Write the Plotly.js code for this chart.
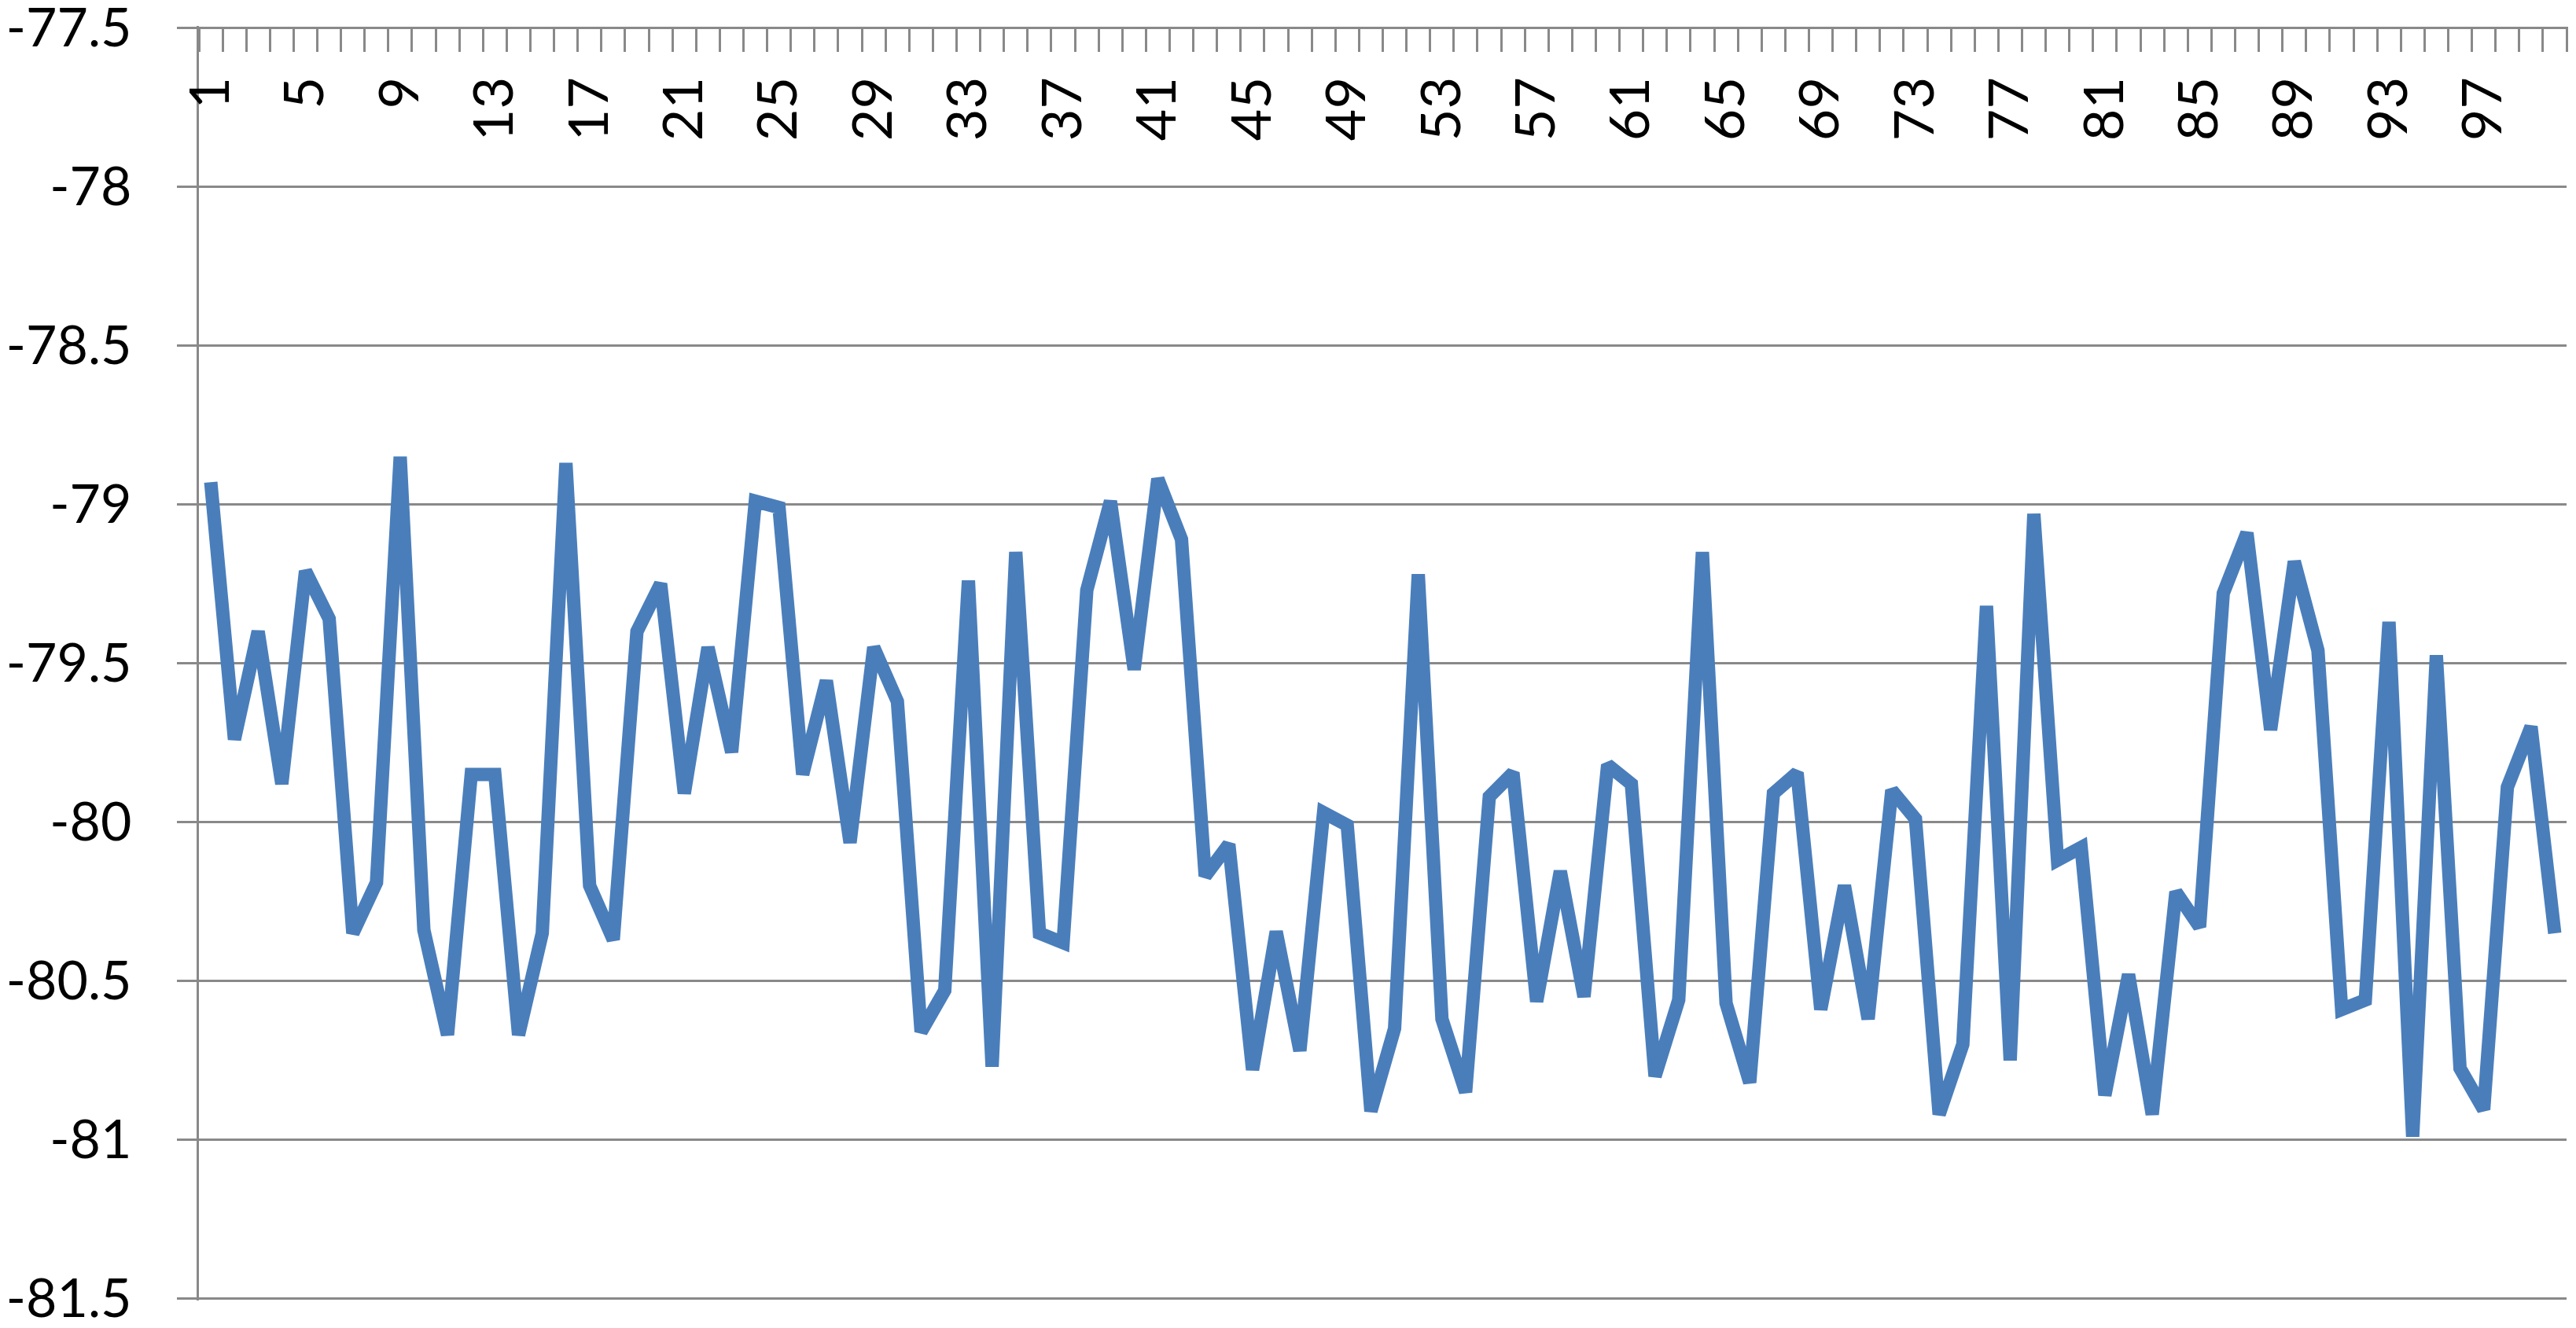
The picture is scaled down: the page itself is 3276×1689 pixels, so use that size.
<!DOCTYPE html>
<html>
<head>
<meta charset="utf-8">
<script src="https://cdn.plot.ly/plotly-3.0.1.min.js"></script>
<style>
  html, body { margin: 0; padding: 0; background: #ffffff; }
  #chart { width: 3276px; height: 1689px; }
</style>
</head>
<body>
<div id="chart"></div>
<script>
// Categories 1..100
const categories = [
  1,2,3,4,5,6,7,8,9,10,11,12,13,14,15,16,17,18,19,20,
  21,22,23,24,25,26,27,28,29,30,31,32,33,34,35,36,37,38,39,40,
  41,42,43,44,45,46,47,48,49,50,51,52,53,54,55,56,57,58,59,60,
  61,62,63,64,65,66,67,68,69,70,71,72,73,74,75,76,77,78,79,80,
  81,82,83,84,85,86,87,88,89,90,91,92,93,94,95,96,97,98,99,100
];

// Series values
const values = [
  -78.93, -79.74, -79.40, -79.88, -79.21, -79.36, -80.35, -80.19, -78.85, -80.34,
  -80.67, -79.85, -79.85, -80.67, -80.35, -78.87, -80.20, -80.37, -79.40, -79.25,
  -79.91, -79.45, -79.78, -78.99, -79.01, -79.85, -79.555, -80.065, -79.45, -79.62,
  -80.66, -80.53, -79.24, -80.77, -79.15, -80.35, -80.38, -79.27, -78.99, -79.52,
  -78.92, -79.11, -80.17, -80.07, -80.78, -80.345, -80.72, -79.97, -80.01, -80.91,
  -80.65, -79.22, -80.62, -80.85, -79.92, -79.845, -80.565, -80.155, -80.55, -79.82,
  -79.88, -80.80, -80.56, -79.15, -80.57, -80.82, -79.91, -79.845, -80.59, -80.20,
  -80.62, -79.90, -79.99, -80.92, -80.70, -79.32, -80.75, -79.03, -80.12, -80.08,
  -80.86, -80.48, -80.92, -80.22, -80.33, -79.28, -79.09, -79.71, -79.18, -79.46,
  -80.59, -80.56, -79.37, -80.99, -79.475, -80.775, -80.905, -79.89, -79.70, -80.35
];

// Tick labels
const xTickVals = [1,5,9,13,17,21,25,29,33,37,41,45,49,53,57,61,65,69,73,77,81,85,89,93,97];
const xTickText = xTickVals.map(v => String(v));
const yTickVals = [-77.5, -78, -78.5, -79, -79.5, -80, -80.5, -81, -81.5];
const yTickText = yTickVals.map(v => String(v));

const gridColor = '#898989';
const fontFamily = 'Lato, Carlito, "Liberation Sans", sans-serif';

const trace = {
  type: 'scatter',
  mode: 'lines',
  x: categories,
  y: values,
  line: { color: '#4A7EBB', width: 17, shape: 'linear' },
  hoverinfo: 'skip',
  showlegend: false
};

const layout = {
  width: 3276,
  height: 1689,
  paper_bgcolor: '#ffffff',
  plot_bgcolor: '#ffffff',
  margin: { l: 253, r: 12, t: 33, b: 35, pad: 0 },
  showlegend: false,
  font: { family: fontFamily, color: '#000000', size: 68 },
  xaxis: {
    type: 'linear',
    range: [0.5, 100.5],
    anchor: 'free',
    position: 1,
    side: 'bottom',
    showline: false,
    showgrid: false,
    zeroline: false,
    tickmode: 'array',
    tickvals: xTickVals,
    ticktext: xTickText,
    tickangle: -90,
    ticks: 'outside',
    ticklen: 32,
    tickwidth: 3,
    tickcolor: 'rgba(0,0,0,0)',
    ticklabelstandoff: 4,
    ticklabeloverflow: 'allow',
    tickfont: { family: fontFamily, size: 70, color: '#000000' },
    minor: {
      tickmode: 'linear',
      tick0: 0.5,
      dtick: 1,
      ticks: 'outside',
      ticklen: 32,
      tickwidth: 3,
      tickcolor: gridColor,
      showgrid: false
    }
  },
  yaxis: {
    range: [-81.506, -77.494],
    domain: [0, 1],
    showline: true,
    linecolor: gridColor,
    linewidth: 3,
    showgrid: true,
    gridcolor: gridColor,
    gridwidth: 3,
    zeroline: false,
    tickmode: 'array',
    tickvals: yTickVals,
    ticktext: yTickText,
    ticks: 'outside',
    ticklen: 25,
    tickwidth: 3,
    tickcolor: gridColor,
    ticklabelstandoff: 44,
    ticklabeloverflow: 'allow',
    tickfont: { family: fontFamily, size: 68, color: '#000000' }
  }
};

Plotly.newPlot('chart', [trace], layout, { staticPlot: true, displayModeBar: false });
</script>
</body>
</html>
